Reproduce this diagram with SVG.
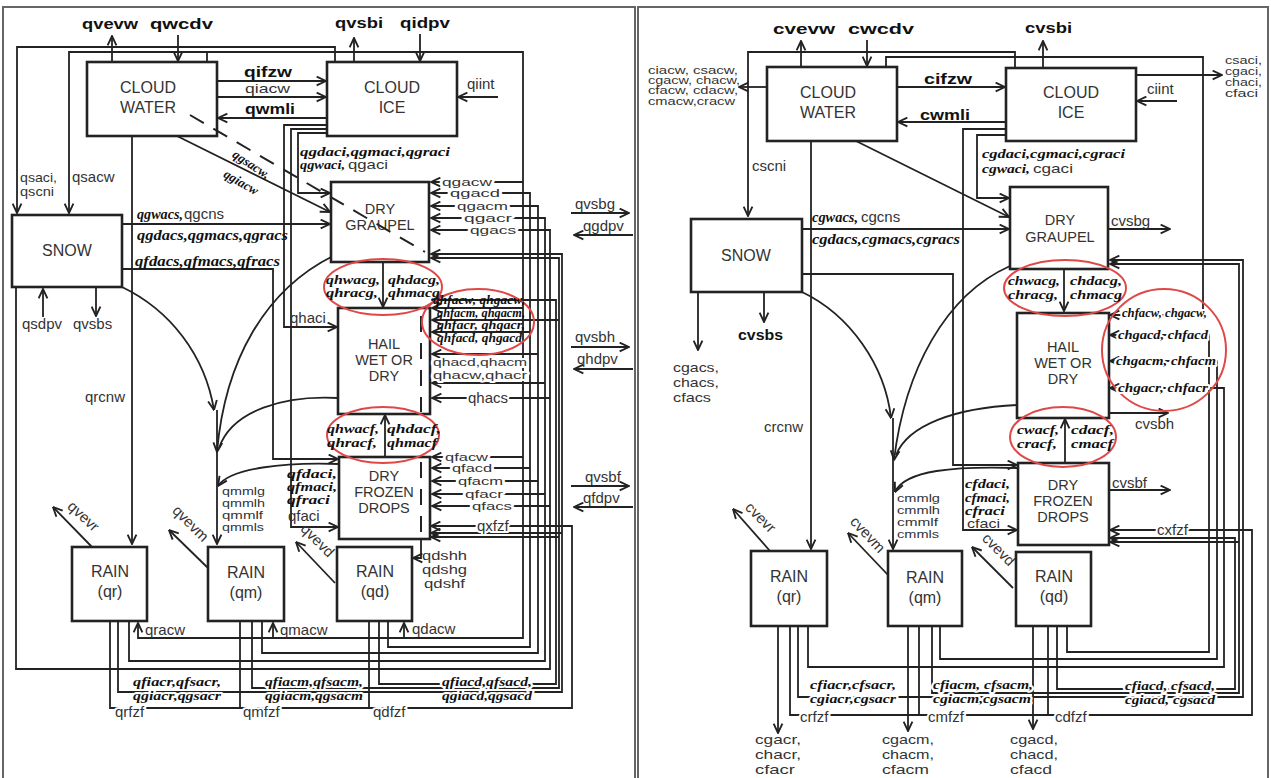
<svg xmlns="http://www.w3.org/2000/svg" width="1271" height="778" viewBox="0 0 1271 778">
<defs>
<style>
.box{fill:#fff;stroke:#222;stroke-width:2.6}
.ln{fill:none;stroke:#222;stroke-width:1.8}
.ar{marker-end:url(#ah)}
.t{font-family:"Liberation Sans",Arial,sans-serif;font-size:15px;fill:#333}
.s{font-size:13px}
.m{font-size:11.5px}
.xs{font-size:11px}
.bx{font-family:"Liberation Sans",Arial,sans-serif;font-size:16px;fill:#333;text-anchor:middle}
.bs{font-size:14.5px}
.b{font-family:"Liberation Sans",Arial,sans-serif;font-size:15px;font-weight:bold;fill:#111}
.c{font-family:"Liberation Serif","DejaVu Serif",serif;font-size:15px;font-style:italic;font-weight:bold;fill:#111}
.cs{font-size:13px}
.cx{font-size:11.5px}
.h{paint-order:stroke;stroke:#fff;stroke-width:4px;stroke-linejoin:round}
.el{fill:none;stroke:#e04848;stroke-width:2}
.dash{fill:none;stroke:#222;stroke-width:2;stroke-dasharray:16 11}
.frame{fill:none;stroke:#666;stroke-width:2}
</style>
<marker id="ah" viewBox="0 0 10 10" refX="9.5" refY="5" markerWidth="11" markerHeight="11" markerUnits="userSpaceOnUse" orient="auto"><path d="M1,1 L9.5,5 L1,9" fill="none" stroke="#222" stroke-width="1.7"/></marker>
</defs>
<rect width="1271" height="778" fill="#fff"/>
<rect class="frame" x="3" y="7" width="632" height="780"/>
<rect class="frame" x="638" y="7" width="630" height="780"/>

<g id="connectors">
<path class="ln ar" d="M112,62 V36"/>
<path class="ln ar" d="M178,35 V61"/>
<path class="ln ar" d="M354,62 V38"/>
<path class="ln ar" d="M420,34 V61"/>
<path class="ln ar" d="M335,62 V47 H17 V213"/>
<path class="ln ar" d="M207,62 V52 H69 V213"/>
<path class="ln ar" d="M207,52 H523 V638 H138 V623"/>
<path class="ln ar" d="M273,638 V623"/>
<path class="ln ar" d="M404,638 V623"/>
<path class="ln ar" d="M523,182 H431"/>
<path class="ln ar" d="M523,308 H432"/>
<path class="ln ar" d="M523,457 H432"/>
<path class="ln ar" d="M388,621 V647 H530 V193 H431"/>
<path class="ln ar" d="M530,332 H432"/>
<path class="ln ar" d="M530,468 H432"/>
<path class="ln ar" d="M262,621 V653 H538 V206 H431"/>
<path class="ln ar" d="M538,354 H432"/>
<path class="ln ar" d="M538,481 H432"/>
<path class="ln ar" d="M129,621 V661 H545 V218 H431"/>
<path class="ln ar" d="M545,383 H432"/>
<path class="ln ar" d="M545,494 H432"/>
<path class="ln ar" d="M16,287 V669 H550 V230 H431"/>
<path class="ln ar" d="M550,398 H432"/>
<path class="ln ar" d="M550,506 H432"/>
<path class="ln ar" d="M118,621 V692 H562 V254 H431"/>
<path class="ln ar" d="M562,533 H431"/>
<path class="ln ar" d="M252,621 V688 H559 V258 H431"/>
<path class="ln ar" d="M559,320 H432"/>
<path class="ln ar" d="M559,537 H431"/>
<path class="ln ar" d="M379,621 V684 H556 V300 H432"/>
<path class="ln ar" d="M110,621 V708 H572 V526 H431"/>
<path class="ln" d="M240,621 V708"/>
<path class="ln" d="M369,621 V708"/>
<path class="ln ar" d="M132,136 V544"/>
<path class="ln ar" d="M217,81 H326"/>
<path class="ln ar" d="M217,97 H326"/>
<path class="ln ar" d="M327,118 H218"/>
<path class="ln ar" d="M498,97 H458"/>
<path class="ln ar" d="M327,125 H284 V327 H337"/>
<path class="ln ar" d="M327,129 H291 V527 H338"/>
<path class="ln ar" d="M327,133 H298 V193 H330"/>
<path class="ln ar" d="M177,136 L330,212"/>
<path class="ln ar" d="M122,224 H330"/>
<path class="ln ar" d="M122,269 H273 V459 H338"/>
<path class="ln ar" d="M43,317 V289"/>
<path class="ln ar" d="M96,287 V316"/>
<path class="ln ar" d="M383,262 V307"/>
<path class="ln ar" d="M385,457 V415"/>
<path class="ln ar" d="M122,287 C170,310 205,355 214,410"/>
<path class="ln ar" d="M333,256 C265,290 225,360 217,452"/>
<path class="ln" d="M338,398 C285,395 232,410 219,448"/>
<path class="ln ar" d="M339,464 C285,462 230,468 218,486"/>
<path class="ln ar" d="M217,410 V544"/>
<path class="ln ar" d="M92,547 L53,507"/>
<path class="ln ar" d="M208,568 L169,530"/>
<path class="ln ar" d="M335,583 L296,542"/>
<path class="ln ar" d="M421,540 V558 H413"/>
<path class="ln ar" d="M571,213 H629"/>
<path class="ln ar" d="M633,235 H574"/>
<path class="ln ar" d="M571,347 H629"/>
<path class="ln ar" d="M633,369 H574"/>
<path class="ln ar" d="M571,486 H629"/>
<path class="ln ar" d="M633,507 H574"/>
<path class="ln ar" d="M801,67 V41"/>
<path class="ln ar" d="M867,40 V66"/>
<path class="ln ar" d="M1043,68 V41"/>
<path class="ln ar" d="M1015,68 V52 H748 V216"/>
<path class="ln ar" d="M886,67 V57 H1203 V315 H1110"/>
<path class="ln ar" d="M767,87 H739"/>
<path class="ln ar" d="M897,87 H1005"/>
<path class="ln ar" d="M1006,122 H898"/>
<path class="ln ar" d="M1177,101 H1137"/>
<path class="ln ar" d="M1136,75 H1222"/>
<path class="ln ar" d="M1006,129 H963 V530 H1017"/>
<path class="ln ar" d="M1006,135 H977 V198 H1009"/>
<path class="ln ar" d="M856,141 L1009,217"/>
<path class="ln ar" d="M802,229 H1009"/>
<path class="ln ar" d="M1108,229 H1170"/>
<path class="ln ar" d="M802,274 H953 V465 H1017"/>
<path class="ln ar" d="M698,292 V350"/>
<path class="ln ar" d="M764,292 V322"/>
<path class="ln ar" d="M811,141 V549"/>
<path class="ln ar" d="M802,292 C850,315 885,365 891,418"/>
<path class="ln ar" d="M1010,266 C945,295 905,370 894,460"/>
<path class="ln" d="M1017,405 C955,408 908,425 896,455"/>
<path class="ln ar" d="M1018,468 C955,466 905,470 895,492"/>
<path class="ln ar" d="M893,418 V549"/>
<path class="ln ar" d="M1064,269 V311"/>
<path class="ln ar" d="M1065,463 V419"/>
<path class="ln ar" d="M1067,626 V652 H1209 V335 H1110"/>
<path class="ln ar" d="M940,626 V659 H1217 V361 H1110"/>
<path class="ln ar" d="M808,626 V667 H1224 V388 H1110"/>
<path class="ln ar" d="M1109,413 H1168"/>
<path class="ln ar" d="M1109,490 H1170"/>
<path class="ln ar" d="M798,626 V697 H1243 V260 H1110"/>
<path class="ln ar" d="M932,626 V693 H1239 V264 H1110"/>
<path class="ln ar" d="M1239,542 H1110"/>
<path class="ln ar" d="M1057,626 V689 H1235 V538 H1110"/>
<path class="ln ar" d="M790,626 V715 H1252 V530 H1110"/>
<path class="ln" d="M919,626 V715"/>
<path class="ln" d="M1048,626 V715"/>
<path class="ln ar" d="M778,626 V733"/>
<path class="ln ar" d="M908,626 V731"/>
<path class="ln ar" d="M1033,626 V729"/>
<path class="ln ar" d="M770,551 L733,509"/>
<path class="ln ar" d="M888,575 L848,533"/>
<path class="ln ar" d="M1013,588 L972,547"/>
</g>

<g id="node-cloudwater-l"><rect class="box" x="87" y="62" width="130" height="74"/><text class="bx" x="148" y="93">CLOUD</text><text class="bx" x="148" y="113">WATER</text></g>
<g id="node-cloudice-l"><rect class="box" x="327" y="62" width="130" height="74"/><text class="bx" x="392" y="93">CLOUD</text><text class="bx" x="392" y="113">ICE</text></g>
<g id="node-snow-l"><rect class="box" x="12" y="215" width="110" height="72"/><text class="bx" x="67" y="256">SNOW</text></g>
<g id="node-graupel-l"><rect class="box" x="331" y="182" width="98" height="80"/><text class="bx bs" x="380" y="214">DRY</text><text class="bx bs" x="380" y="230">GRAUPEL</text></g>
<g id="node-hail-l"><rect class="box" x="338" y="308" width="92" height="106"/><text class="bx bs" x="384" y="349">HAIL</text><text class="bx bs" x="384" y="365">WET OR</text><text class="bx bs" x="384" y="381">DRY</text></g>
<g id="node-frozen-l"><rect class="box" x="339" y="457" width="91" height="82"/><text class="bx bs" x="384" y="481">DRY</text><text class="bx bs" x="384" y="497">FROZEN</text><text class="bx bs" x="384" y="513">DROPS</text></g>
<g id="node-rainqr-l"><rect class="box" x="72" y="547" width="75" height="74"/><text class="bx" x="110" y="577">RAIN</text><text class="bx" x="110" y="597">(qr)</text></g>
<g id="node-rainqm-l"><rect class="box" x="208" y="547" width="76" height="74"/><text class="bx" x="246" y="578">RAIN</text><text class="bx" x="246" y="598">(qm)</text></g>
<g id="node-rainqd-l"><rect class="box" x="337" y="547" width="75" height="74"/><text class="bx" x="375" y="577">RAIN</text><text class="bx" x="375" y="597">(qd)</text></g>

<g id="node-cloudwater-r"><rect class="box" x="767" y="67" width="130" height="74"/><text class="bx" x="828" y="98">CLOUD</text><text class="bx" x="828" y="118">WATER</text></g>
<g id="node-cloudice-r"><rect class="box" x="1006" y="68" width="130" height="73"/><text class="bx" x="1071" y="98">CLOUD</text><text class="bx" x="1071" y="118">ICE</text></g>
<g id="node-snow-r"><rect class="box" x="691" y="219" width="111" height="73"/><text class="bx" x="746" y="261">SNOW</text></g>
<g id="node-graupel-r"><rect class="box" x="1010" y="187" width="98" height="82"/><text class="bx bs" x="1060" y="225">DRY</text><text class="bx bs" x="1060" y="242">GRAUPEL</text></g>
<g id="node-hail-r"><rect class="box" x="1017" y="313" width="92" height="105"/><text class="bx bs" x="1063" y="352">HAIL</text><text class="bx bs" x="1063" y="368">WET OR</text><text class="bx bs" x="1063" y="384">DRY</text></g>
<g id="node-frozen-r"><rect class="box" x="1018" y="463" width="91" height="82"/><text class="bx bs" x="1063" y="490">DRY</text><text class="bx bs" x="1063" y="506">FROZEN</text><text class="bx bs" x="1063" y="522">DROPS</text></g>
<g id="node-rainqr-r"><rect class="box" x="751" y="551" width="76" height="75"/><text class="bx" x="789" y="582">RAIN</text><text class="bx" x="789" y="602">(qr)</text></g>
<g id="node-rainqm-r"><rect class="box" x="888" y="551" width="74" height="75"/><text class="bx" x="925" y="583">RAIN</text><text class="bx" x="925" y="603">(qm)</text></g>
<g id="node-rainqd-r"><rect class="box" x="1016" y="552" width="75" height="74"/><text class="bx" x="1054" y="582">RAIN</text><text class="bx" x="1054" y="602">(qd)</text></g>

<g id="marks">
<path class="dash" d="M190,115 L425,252"/>
<path class="dash" d="M421,316 V412 M421,462 V536"/>
<ellipse class="el" cx="383" cy="287" rx="59" ry="28"/>
<ellipse class="el" cx="478" cy="322" rx="56" ry="33"/>
<ellipse class="el" cx="383" cy="435" rx="56" ry="28"/>
<ellipse class="el" cx="1065" cy="288" rx="61" ry="28"/>
<ellipse class="el" cx="1164" cy="350" rx="62" ry="61"/>
<ellipse class="el" cx="1063" cy="437" rx="53" ry="30"/>
</g>

<g id="labels-left">
<text class="b" x="82" y="29" textLength="56" lengthAdjust="spacingAndGlyphs">qvevw</text>
<text class="b" x="150" y="29" textLength="63" lengthAdjust="spacingAndGlyphs">qwcdv</text>
<text class="b" x="335" y="28" textLength="48" lengthAdjust="spacingAndGlyphs">qvsbi</text>
<text class="b" x="400" y="28" textLength="50" lengthAdjust="spacingAndGlyphs">qidpv</text>
<text class="b" x="244" y="77" textLength="48" lengthAdjust="spacingAndGlyphs">qifzw</text>
<text class="b" x="245" y="114" textLength="50" lengthAdjust="spacingAndGlyphs">qwmli</text>
<text class="t s" x="245" y="93" textLength="45" lengthAdjust="spacingAndGlyphs">qiacw</text>
<text class="t" x="467" y="89">qiint</text>
<text class="t s" x="20" y="182" textLength="37" lengthAdjust="spacingAndGlyphs">qsaci,</text>
<text class="t s" x="20" y="196" textLength="34" lengthAdjust="spacingAndGlyphs">qscni</text>
<text class="t" x="72" y="182">qsacw</text>
<text class="t" x="22" y="329">qsdpv</text>
<text class="t" x="73" y="329">qvsbs</text>
<text class="t" x="85" y="402">qrcnw</text>
<text class="t" x="290" y="323">qhaci</text>
<text class="t m h" x="442" y="186" textLength="50" lengthAdjust="spacingAndGlyphs">qgacw</text>
<text class="t m h" x="450" y="197" textLength="50" lengthAdjust="spacingAndGlyphs">qgacd</text>
<text class="t m h" x="457" y="210" textLength="51" lengthAdjust="spacingAndGlyphs">qgacm</text>
<text class="t m h" x="464" y="222" textLength="48" lengthAdjust="spacingAndGlyphs">qgacr</text>
<text class="t m h" x="470" y="234" textLength="46" lengthAdjust="spacingAndGlyphs">qgacs</text>
<text class="t" x="575" y="209">qvsbg</text>
<text class="t" x="583" y="231">qgdpv</text>
<text class="t" x="575" y="342">qvsbh</text>
<text class="t" x="577" y="364">qhdpv</text>
<text class="t" x="585" y="482">qvsbf</text>
<text class="t" x="583" y="503">qfdpv</text>
<text class="t m h" x="433" y="366" textLength="94" lengthAdjust="spacingAndGlyphs">qhacd,qhacm</text>
<text class="t m h" x="433" y="379" textLength="94" lengthAdjust="spacingAndGlyphs">qhacw,qhacr</text>
<text class="t h" x="468" y="403">qhacs</text>
<text class="t m h" x="445" y="461" textLength="43" lengthAdjust="spacingAndGlyphs">qfacw</text>
<text class="t m h" x="452" y="472" textLength="40" lengthAdjust="spacingAndGlyphs">qfacd</text>
<text class="t m h" x="458" y="485" textLength="45" lengthAdjust="spacingAndGlyphs">qfacm</text>
<text class="t m h" x="465" y="498" textLength="38" lengthAdjust="spacingAndGlyphs">qfacr</text>
<text class="t m h" x="472" y="510" textLength="40" lengthAdjust="spacingAndGlyphs">qfacs</text>
<text class="t h" x="477" y="531">qxfzf</text>
<text class="t s" x="422" y="560" textLength="45" lengthAdjust="spacingAndGlyphs">qdshh</text>
<text class="t s" x="422" y="574" textLength="45" lengthAdjust="spacingAndGlyphs">qdshg</text>
<text class="t s" x="424" y="588" textLength="41" lengthAdjust="spacingAndGlyphs">qdshf</text>
<text class="t xs" x="222" y="495" textLength="43" lengthAdjust="spacingAndGlyphs">qmmlg</text>
<text class="t xs" x="222" y="507" textLength="43" lengthAdjust="spacingAndGlyphs">qmmlh</text>
<text class="t xs" x="222" y="519" textLength="41" lengthAdjust="spacingAndGlyphs">qmmlf</text>
<text class="t xs" x="222" y="531" textLength="42" lengthAdjust="spacingAndGlyphs">qmmls</text>
<text class="t" x="288" y="521">qfaci</text>
<text class="t" x="145" y="635">qracw</text>
<text class="t" x="280" y="635">qmacw</text>
<text class="t" x="412" y="634">qdacw</text>
<text class="t h" x="115" y="717">qrfzf</text>
<text class="t h" x="243" y="717">qmfzf</text>
<text class="t h" x="373" y="717">qdfzf</text>
<text class="t" transform="translate(80,520) rotate(43)" text-anchor="middle">qvevr</text>
<text class="t" transform="translate(187,527) rotate(45)" text-anchor="middle">qvevm</text>
<text class="t" transform="translate(314,544) rotate(45)" text-anchor="middle">qvevd</text>
<text class="c cs" x="300" y="156" textLength="150" lengthAdjust="spacingAndGlyphs">qgdaci,qgmaci,qgraci</text>
<text class="c cs" x="300" y="169" textLength="45" lengthAdjust="spacingAndGlyphs">qgwaci,</text>
<text class="t s" x="348" y="169" textLength="40" lengthAdjust="spacingAndGlyphs">qgaci</text>
<text class="c" x="137" y="219" textLength="46" lengthAdjust="spacingAndGlyphs">qgwacs,</text>
<text class="t" x="184" y="219">qgcns</text>
<text class="c" x="137" y="240" textLength="151" lengthAdjust="spacingAndGlyphs">qgdacs,qgmacs,qgracs</text>
<text class="c" x="135" y="266" textLength="145" lengthAdjust="spacingAndGlyphs">qfdacs,qfmacs,qfracs</text>
<text class="c cs" transform="translate(249,168) rotate(33)" text-anchor="middle">qgsacw,</text>
<text class="c cs" transform="translate(239,186) rotate(30)" text-anchor="middle">qgiacw</text>
<text class="c cs" x="326" y="284" textLength="54" lengthAdjust="spacingAndGlyphs">qhwacg,</text>
<text class="c cs" x="388" y="284" textLength="52" lengthAdjust="spacingAndGlyphs">qhdacg,</text>
<text class="c cs" x="326" y="297" textLength="52" lengthAdjust="spacingAndGlyphs">qhracg,</text>
<text class="c cs" x="388" y="297" textLength="52" lengthAdjust="spacingAndGlyphs">qhmacg</text>
<text class="c cx" x="433" y="304" textLength="92" lengthAdjust="spacingAndGlyphs">qhfacw, qhgacw,</text>
<text class="c cx" x="437" y="317" textLength="88" lengthAdjust="spacingAndGlyphs">qhfacm, qhgacm,</text>
<text class="c cx" x="437" y="329" textLength="88" lengthAdjust="spacingAndGlyphs">qhfacr, qhgacr,</text>
<text class="c cx" x="437" y="342" textLength="85" lengthAdjust="spacingAndGlyphs">qhfacd, qhgacd</text>
<text class="c cs" x="327" y="433" textLength="52" lengthAdjust="spacingAndGlyphs">qhwacf,</text>
<text class="c cs" x="387" y="433" textLength="54" lengthAdjust="spacingAndGlyphs">qhdacf,</text>
<text class="c cs" x="327" y="447" textLength="50" lengthAdjust="spacingAndGlyphs">qhracf,</text>
<text class="c cs" x="387" y="447" textLength="50" lengthAdjust="spacingAndGlyphs">qhmacf</text>
<text class="c cs" x="287" y="478" textLength="50" lengthAdjust="spacingAndGlyphs">qfdaci,</text>
<text class="c cs" x="287" y="491" textLength="50" lengthAdjust="spacingAndGlyphs">qfmaci,</text>
<text class="c cs" x="287" y="504" textLength="43" lengthAdjust="spacingAndGlyphs">qfraci</text>
<text class="c cs h" x="133" y="686" textLength="88" lengthAdjust="spacingAndGlyphs">qfiacr,qfsacr,</text>
<text class="c cs h" x="133" y="700" textLength="88" lengthAdjust="spacingAndGlyphs">qgiacr,qgsacr</text>
<text class="c cs h" x="265" y="686" textLength="98" lengthAdjust="spacingAndGlyphs">qfiacm,qfsacm,</text>
<text class="c cs h" x="265" y="700" textLength="98" lengthAdjust="spacingAndGlyphs">qgiacm,qgsacm</text>
<text class="c cs h" x="442" y="686" textLength="90" lengthAdjust="spacingAndGlyphs">qfiacd,qfsacd,</text>
<text class="c cs h" x="442" y="700" textLength="90" lengthAdjust="spacingAndGlyphs">qgiacd,qgsacd</text>
</g>

<g id="labels-right">
<text class="b" x="773" y="34" textLength="62" lengthAdjust="spacingAndGlyphs">cvevw</text>
<text class="b" x="848" y="34" textLength="66" lengthAdjust="spacingAndGlyphs">cwcdv</text>
<text class="b" x="1025" y="33" textLength="47" lengthAdjust="spacingAndGlyphs">cvsbi</text>
<text class="b" x="924" y="84" textLength="48" lengthAdjust="spacingAndGlyphs">cifzw</text>
<text class="b" x="920" y="120" textLength="50" lengthAdjust="spacingAndGlyphs">cwmli</text>
<text class="b" x="738" y="340" textLength="45" lengthAdjust="spacingAndGlyphs">cvsbs</text>
<text class="t xs" x="648" y="74" textLength="90" lengthAdjust="spacingAndGlyphs">ciacw,  csacw,</text>
<text class="t xs" x="648" y="84" textLength="92" lengthAdjust="spacingAndGlyphs">cgacw, chacw,</text>
<text class="t xs" x="648" y="94" textLength="90" lengthAdjust="spacingAndGlyphs">cfacw,  cdacw,</text>
<text class="t xs" x="648" y="105" textLength="87" lengthAdjust="spacingAndGlyphs">cmacw,cracw</text>
<text class="t xs" x="1225" y="64" textLength="37" lengthAdjust="spacingAndGlyphs">csaci,</text>
<text class="t xs" x="1225" y="75" textLength="37" lengthAdjust="spacingAndGlyphs">cgaci,</text>
<text class="t xs" x="1225" y="86" textLength="37" lengthAdjust="spacingAndGlyphs">chaci,</text>
<text class="t xs" x="1225" y="97" textLength="33" lengthAdjust="spacingAndGlyphs">cfaci</text>
<text class="t" x="1147" y="94">ciint</text>
<text class="t" x="752" y="171">cscni</text>
<text class="t s" x="673" y="372" textLength="46" lengthAdjust="spacingAndGlyphs">cgacs,</text>
<text class="t s" x="673" y="387" textLength="46" lengthAdjust="spacingAndGlyphs">chacs,</text>
<text class="t s" x="673" y="402" textLength="38" lengthAdjust="spacingAndGlyphs">cfacs</text>
<text class="t" x="764" y="432">crcnw</text>
<text class="t" x="1111" y="226">cvsbg</text>
<text class="t" x="1135" y="429">cvsbh</text>
<text class="t" x="1112" y="488">cvsbf</text>
<text class="t h" x="1157" y="535">cxfzf</text>
<text class="t xs" x="897" y="502" textLength="43" lengthAdjust="spacingAndGlyphs">cmmlg</text>
<text class="t xs" x="897" y="514" textLength="43" lengthAdjust="spacingAndGlyphs">cmmlh</text>
<text class="t xs" x="897" y="526" textLength="41" lengthAdjust="spacingAndGlyphs">cmmlf</text>
<text class="t xs" x="897" y="538" textLength="42" lengthAdjust="spacingAndGlyphs">cmmls</text>
<text class="t s" x="967" y="528" textLength="33" lengthAdjust="spacingAndGlyphs">cfaci</text>
<text class="t h" x="800" y="722">crfzf</text>
<text class="t h" x="928" y="722">cmfzf</text>
<text class="t h" x="1055" y="722">cdfzf</text>
<text class="t s" x="755" y="744" textLength="46" lengthAdjust="spacingAndGlyphs">cgacr,</text>
<text class="t s" x="755" y="759" textLength="46" lengthAdjust="spacingAndGlyphs">chacr,</text>
<text class="t s" x="755" y="774" textLength="40" lengthAdjust="spacingAndGlyphs">cfacr</text>
<text class="t s" x="882" y="744" textLength="52" lengthAdjust="spacingAndGlyphs">cgacm,</text>
<text class="t s" x="882" y="759" textLength="52" lengthAdjust="spacingAndGlyphs">chacm,</text>
<text class="t s" x="882" y="774" textLength="47" lengthAdjust="spacingAndGlyphs">cfacm</text>
<text class="t s" x="1010" y="744" textLength="48" lengthAdjust="spacingAndGlyphs">cgacd,</text>
<text class="t s" x="1010" y="759" textLength="48" lengthAdjust="spacingAndGlyphs">chacd,</text>
<text class="t s" x="1010" y="774" textLength="42" lengthAdjust="spacingAndGlyphs">cfacd</text>
<text class="t" transform="translate(757,521) rotate(45)" text-anchor="middle">cvevr</text>
<text class="t" transform="translate(864,538) rotate(47)" text-anchor="middle">cvevm</text>
<text class="t" transform="translate(995,553) rotate(45)" text-anchor="middle">cvevd</text>
<text class="c cs" x="982" y="158" textLength="143" lengthAdjust="spacingAndGlyphs">cgdaci,cgmaci,cgraci</text>
<text class="c cs" x="982" y="173" textLength="48" lengthAdjust="spacingAndGlyphs">cgwaci,</text>
<text class="t s" x="1033" y="173" textLength="40" lengthAdjust="spacingAndGlyphs">cgaci</text>
<text class="c" x="812" y="222" textLength="46" lengthAdjust="spacingAndGlyphs">cgwacs,</text>
<text class="t" x="861" y="222">cgcns</text>
<text class="c" x="812" y="244" textLength="148" lengthAdjust="spacingAndGlyphs">cgdacs,cgmacs,cgracs</text>
<text class="c cs" x="1008" y="285" textLength="52" lengthAdjust="spacingAndGlyphs">chwacg,</text>
<text class="c cs" x="1070" y="285" textLength="52" lengthAdjust="spacingAndGlyphs">chdacg,</text>
<text class="c cs" x="1008" y="299" textLength="50" lengthAdjust="spacingAndGlyphs">chracg,</text>
<text class="c cs" x="1070" y="299" textLength="52" lengthAdjust="spacingAndGlyphs">chmacg</text>
<text class="c cs h" x="1122" y="317" textLength="85" lengthAdjust="spacingAndGlyphs">chfacw, chgacw,</text>
<text class="c cs h" x="1118" y="339" textLength="90" lengthAdjust="spacingAndGlyphs">chgacd, chfacd</text>
<text class="c cs h" x="1116" y="365" textLength="100" lengthAdjust="spacingAndGlyphs">chgacm, chfacm</text>
<text class="c cs h" x="1118" y="392" textLength="90" lengthAdjust="spacingAndGlyphs">chgacr, chfacr</text>
<text class="c cs" x="1017" y="434" textLength="42" lengthAdjust="spacingAndGlyphs">cwacf,</text>
<text class="c cs" x="1071" y="434" textLength="43" lengthAdjust="spacingAndGlyphs">cdacf,</text>
<text class="c cs" x="1017" y="448" textLength="40" lengthAdjust="spacingAndGlyphs">cracf,</text>
<text class="c cs" x="1071" y="448" textLength="42" lengthAdjust="spacingAndGlyphs">cmacf</text>
<text class="c cs" x="965" y="488" textLength="45" lengthAdjust="spacingAndGlyphs">cfdaci,</text>
<text class="c cs" x="965" y="502" textLength="45" lengthAdjust="spacingAndGlyphs">cfmaci,</text>
<text class="c cs" x="965" y="515" textLength="40" lengthAdjust="spacingAndGlyphs">cfraci</text>
<text class="c cs h" x="810" y="689" textLength="86" lengthAdjust="spacingAndGlyphs">cfiacr,cfsacr,</text>
<text class="c cs h" x="810" y="703" textLength="86" lengthAdjust="spacingAndGlyphs">cgiacr,cgsacr</text>
<text class="c cs h" x="933" y="689" textLength="100" lengthAdjust="spacingAndGlyphs">cfiacm, cfsacm,</text>
<text class="c cs h" x="933" y="703" textLength="98" lengthAdjust="spacingAndGlyphs">cgiacm,cgsacm</text>
<text class="c cs h" x="1125" y="690" textLength="90" lengthAdjust="spacingAndGlyphs">cfiacd, cfsacd,</text>
<text class="c cs h" x="1125" y="704" textLength="90" lengthAdjust="spacingAndGlyphs">cgiacd, cgsacd</text>
</g>
</svg>
